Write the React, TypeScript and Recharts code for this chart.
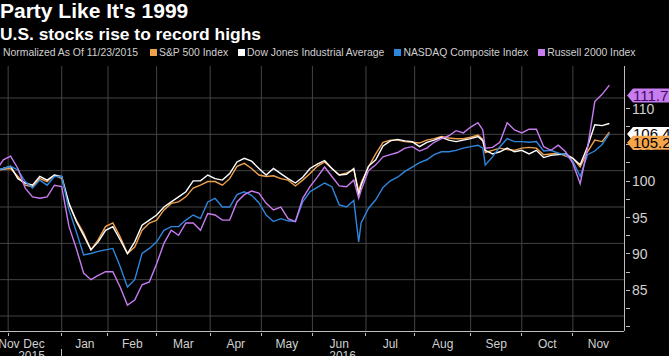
import React from "react"
import { ComposedChart, Line, XAxis, YAxis } from "recharts"

const FONT = '"Liberation Sans", Arial, sans-serif'

// trading days since 11/23/2015
const tradingDay = [
  0, 3, 6, 9, 12, 15, 18, 21, 24, 27, 30, 33, 36, 39, 42, 45, 48, 51, 54, 57,
  60, 63, 66, 69, 72, 75, 78, 81, 84, 87, 90, 93, 96, 99, 102, 105, 108, 111, 114, 117,
  120, 123, 126, 129, 132, 135, 138, 141, 144, 147, 149, 150, 153, 156, 159, 162, 165, 168, 171, 174,
  177, 180, 183, 186, 189, 192, 195, 198, 200, 201, 204, 207, 210, 213, 216, 219, 222, 225, 228, 231,
  234, 237, 240, 243, 246, 249, 252,
]

const sp500 = [
  100, 100.2, 100.3, 99.2, 98.0, 97.8, 98.9, 98.5, 99.4, 98.9, 95.3, 93.2, 91.4, 89.1, 90.5, 92.3, 92.8, 90.9, 88.6, 89.5,
  91.8, 92.8, 93.2, 94.6, 95.5, 95.7, 96.4, 97.6, 98.0, 98.5, 98.5, 98.0, 98.9, 100.6, 101.0, 100.3, 99.4, 99.2, 99.3, 98.9,
  98.7, 97.9, 98.7, 99.6, 100.6, 101.2, 100.3, 99.4, 99.7, 100.1, 97.2, 98.3, 100.5, 102.3, 103.9, 104.2, 104.2, 104.0, 103.9, 103.8,
  104.2, 104.4, 104.7, 104.5, 104.4, 104.4, 104.6, 104.9, 104.3, 102.5, 102.8, 103.1, 102.9, 102.8, 103.1, 103.2, 103.1, 102.2, 102.3, 102.4,
  102.0, 101.7, 100.5, 102.6, 104.2, 104.0, 105.29,
]

const dowJones = [
  100, 100.3, 100.6, 98.9, 98.3, 98.0, 99.2, 98.7, 99.4, 99.2, 95.5, 93.0, 91.1, 89.1, 90.2, 91.8, 92.3, 90.5, 88.6, 90.2,
  92.5, 93.2, 93.9, 95.0, 95.7, 96.4, 97.1, 98.6, 98.6, 99.4, 98.9, 98.7, 99.6, 101.2, 101.7, 101.3, 100.3, 99.4, 100.3, 99.6,
  98.9, 98.3, 99.1, 100.3, 100.9, 101.4, 100.3, 99.4, 99.5, 100.3, 96.6, 98.0, 100.6, 101.5, 103.4, 104.1, 104.3, 104.1, 104.0, 103.3,
  103.9, 104.2, 104.6, 104.2, 104.0, 104.2, 104.4, 104.7, 104.1, 102.8, 102.3, 102.6, 103.1, 102.6, 102.8, 102.3, 102.8, 101.8, 102.1, 102.2,
  102.3, 101.7, 100.8, 103.3, 106.3, 106.2, 106.49,
]

const nasdaq = [
  100, 100.3, 100.6, 100.1, 98.5, 97.6, 98.7, 98.0, 99.2, 99.2, 94.6, 91.6, 88.4, 88.6, 88.9, 89.1, 89.3, 86.8, 84.0, 85.0,
  88.6, 89.3, 90.2, 91.8, 92.3, 92.3, 93.2, 93.9, 93.4, 95.7, 96.2, 95.0, 95.0, 96.7, 97.1, 96.6, 95.6, 93.9, 93.0, 93.4,
  93.1, 93.0, 95.7, 97.1, 97.7, 98.3, 97.8, 95.3, 95.0, 95.9, 90.2, 92.8, 94.8, 96.0, 97.7, 98.6, 99.1, 99.9, 100.5, 101.1,
  101.5, 102.2, 102.6, 102.6, 102.8, 103.1, 103.3, 103.5, 103.1, 100.8, 101.9, 103.3, 104.4, 104.0, 104.0, 103.9, 104.0, 102.7, 102.8, 102.4,
  102.2, 101.3, 99.2, 102.2, 102.7, 103.6, 105.1,
]

const russell2000 = [
  100, 101.5, 102.0, 100.3, 97.6, 96.4, 96.2, 96.4, 98.0, 97.8, 92.3, 89.3, 85.9, 85.0, 85.6, 86.1, 86.1, 84.0, 81.5, 82.2,
  84.3, 84.7, 87.2, 90.0, 91.8, 91.1, 92.8, 92.8, 91.8, 94.1, 93.9, 93.2, 93.2, 95.7, 96.7, 97.2, 96.9, 95.5, 94.6, 95.0,
  93.4, 93.0, 96.2, 97.8, 99.1, 100.5, 99.2, 97.9, 97.8, 98.7, 96.2, 97.3, 100.0, 100.8, 101.9, 102.2, 102.5, 103.1, 103.3, 102.7,
  103.1, 103.9, 104.4, 104.8, 105.5, 105.2, 106.0, 106.6, 105.6, 103.1, 103.2, 103.9, 106.6, 105.6, 105.2, 105.7, 105.7, 103.3, 102.8, 103.5,
  102.6, 101.0, 98.2, 103.1, 109.5, 110.5, 111.77,
]

// x axis: month boundaries (trading day index), label centres
const monthStarts = [5, 27, 46, 66, 88, 109, 130, 152, 172, 195, 216, 237]
const monthLabels = ["Nov", "Dec", "Jan", "Feb", "Mar", "Apr", "May", "Jun", "Jul", "Aug", "Sep", "Oct", "Nov"]
const monthLabelPos = [5.3, 15.6, 36.5, 56, 77, 98.5, 119.5, 141, 162, 183.5, 205.5, 226.5, 247.5]
const yearLabels = ["2015", "2016"]
const yearLabelPos = [14.6, 142.4]

const yTicks = [80, 82.5, 85, 87.5, 90, 92.5, 95, 97.5, 100, 102.5, 105, 107.5, 110]
const yLabelled = [85, 90, 95, 100, 105, 110]
const gridValues = [80, 85, 90, 95, 100, 105, 110]

const series = [
  { key: "sp", name: "S&P 500 Index", color: "#f0a04b" },
  { key: "dow", name: "Dow Jones Industrial Average", color: "#ffffff" },
  { key: "nasdaq", name: "NASDAQ Composite Index", color: "#2f86dd" },
  { key: "russell", name: "Russell 2000 Index", color: "#c77cf0" },
]

const badges = [
  { value: 106.49, label: "106.49%", fill: "#ffffff", text: "#000000" },
  { value: 105.29, label: "105.29%", fill: "#f5a54a", text: "#000000" },
  { value: 111.77, label: "111.77%", fill: "#c77cf0", text: "#3d0a5c" },
]

const data = tradingDay.map((t, i) => ({
  t,
  sp: sp500[i],
  dow: dowJones[i],
  nasdaq: nasdaq[i],
  russell: russell2000[i],
}))

const X_DOMAIN: [number, number] = [0, 258]
const Y_DOMAIN: [number, number] = [77.94, 114.4]

// grid drawn as plain two-point lines in data units, under the series
const hGrid = gridValues.map((v) => [
  { t: X_DOMAIN[0], g: v },
  { t: X_DOMAIN[1], g: v },
])
const vGrid = monthStarts.map((m) => [
  { t: m, g: Y_DOMAIN[0] },
  { t: m, g: Y_DOMAIN[1] },
])

// Bloomberg draws the axis labels a little below the grid
const LABEL_SHIFT = 10.5
const GRID = "#444444"
const AXIS = "#bdbdbd"

function YTick(props: any) {
  const { x, y, index } = props
  const yy = y + LABEL_SHIFT
  if (index >= yTicks.length) {
    const b = badges[index - yTicks.length]
    return (
      <g>
        <path d={`M${x + 1} ${yy} L${x + 7} ${yy - 7} H${x + 80} V${yy + 7} H${x + 7} Z`} fill={b.fill} />
        <text x={x + 7} y={yy} dy="0.36em" fill={b.text} fontSize={15} fontFamily={FONT}>
          {b.label}
        </text>
      </g>
    )
  }
  const v = yTicks[index]
  return (
    <g>
      <line x1={x} x2={x + 4} y1={yy} y2={yy} stroke={AXIS} shapeRendering="crispEdges" />
      {yLabelled.includes(v) && (
        <text x={x + 6} y={yy} dy="0.36em" fill="#d0d0d0" fontSize={14} fontFamily={FONT}>
          {v}
        </text>
      )}
    </g>
  )
}

function XTick(props: any) {
  const { x, y, index } = props
  const nStart = monthStarts.length
  const nMonth = monthLabels.length
  if (index < nStart) {
    return (
      <g shapeRendering="crispEdges">
        <line x1={x} x2={x} y1={y} y2={y + 3} stroke={AXIS} />
        {monthStarts[index] === 27 && <line x1={x} x2={x} y1={y + 16} y2={y + 30} stroke={AXIS} />}
      </g>
    )
  }
  if (index < nStart + nMonth) {
    return (
      <text x={x} y={y + 15} textAnchor="middle" fill="#d0d0d0" fontSize={12} fontFamily={FONT}>
        {monthLabels[index - nStart]}
      </text>
    )
  }
  return (
    <text x={x} y={y + 27} textAnchor="middle" fill="#d0d0d0" fontSize={12} fontFamily={FONT}>
      {yearLabels[index - nStart - nMonth]}
    </text>
  )
}

export default function App() {
  return (
    <div
      style={{
        position: "absolute",
        left: 0,
        top: 0,
        width: 669,
        height: 356,
        background: "#000",
        overflow: "hidden",
        fontFamily: FONT,
      }}
    >
      <div style={{ position: "absolute", left: 0, top: -1, color: "#fff", fontWeight: 700, fontSize: 21 }}>
        Party Like It's 1999
      </div>
      <div style={{ position: "absolute", left: 0, top: 24, color: "#fff", fontWeight: 700, fontSize: 17.4 }}>
        U.S. stocks rise to record highs
      </div>
      <div
        style={{
          position: "absolute",
          left: 3,
          top: 47,
          display: "flex",
          alignItems: "center",
          fontSize: 10.4,
          color: "#d0d0d0",
          whiteSpace: "nowrap",
        }}
      >
        <span style={{ marginRight: 12 }}>Normalized As Of 11/23/2015</span>
        {series.map((s) => (
          <span key={s.key} style={{ display: "flex", alignItems: "center", marginRight: 10 }}>
            <span style={{ width: 7, height: 7, background: s.color, marginRight: 2 }} />
            {s.name}
          </span>
        ))}
      </div>

      <div style={{ position: "absolute", left: -4, top: 56 }}>
        <ComposedChart width={673} height={300} data={data} margin={{ top: 10, right: 0, bottom: 0, left: 0 }}>
          <XAxis
            dataKey="t"
            type="number"
            domain={X_DOMAIN}
            ticks={[...monthStarts, ...monthLabelPos, ...yearLabelPos]}
            interval={0}
            tick={<XTick />}
            tickLine={false}
            tickSize={0}
            height={25}
            axisLine={{ stroke: AXIS, shapeRendering: "crispEdges" }}
            allowDataOverflow
          />
          <YAxis
            orientation="right"
            type="number"
            domain={Y_DOMAIN}
            ticks={[...yTicks, ...badges.map((b) => b.value)]}
            interval={0}
            tick={<YTick />}
            tickLine={false}
            tickSize={0}
            width={45}
            axisLine={{ stroke: AXIS, shapeRendering: "crispEdges" }}
            allowDataOverflow
          />
          {hGrid.map((pts, i) => (
            <Line
              key={`hg${i}`}
              data={pts}
              dataKey="g"
              stroke={GRID}
              strokeWidth={1}
              dot={false}
              activeDot={false}
              legendType="none"
              isAnimationActive={false}
            />
          ))}
          {vGrid.map((pts, i) => (
            <Line
              key={`vg${i}`}
              data={pts}
              dataKey="g"
              stroke={GRID}
              strokeWidth={1}
              dot={false}
              activeDot={false}
              legendType="none"
              isAnimationActive={false}
            />
          ))}
          {series.map((s) => (
            <Line
              key={s.key}
              dataKey={s.key}
              name={s.name}
              stroke={s.color}
              strokeWidth={1.4}
              dot={false}
              type="linear"
              isAnimationActive={false}
            />
          ))}
        </ComposedChart>
      </div>
    </div>
  )
}
